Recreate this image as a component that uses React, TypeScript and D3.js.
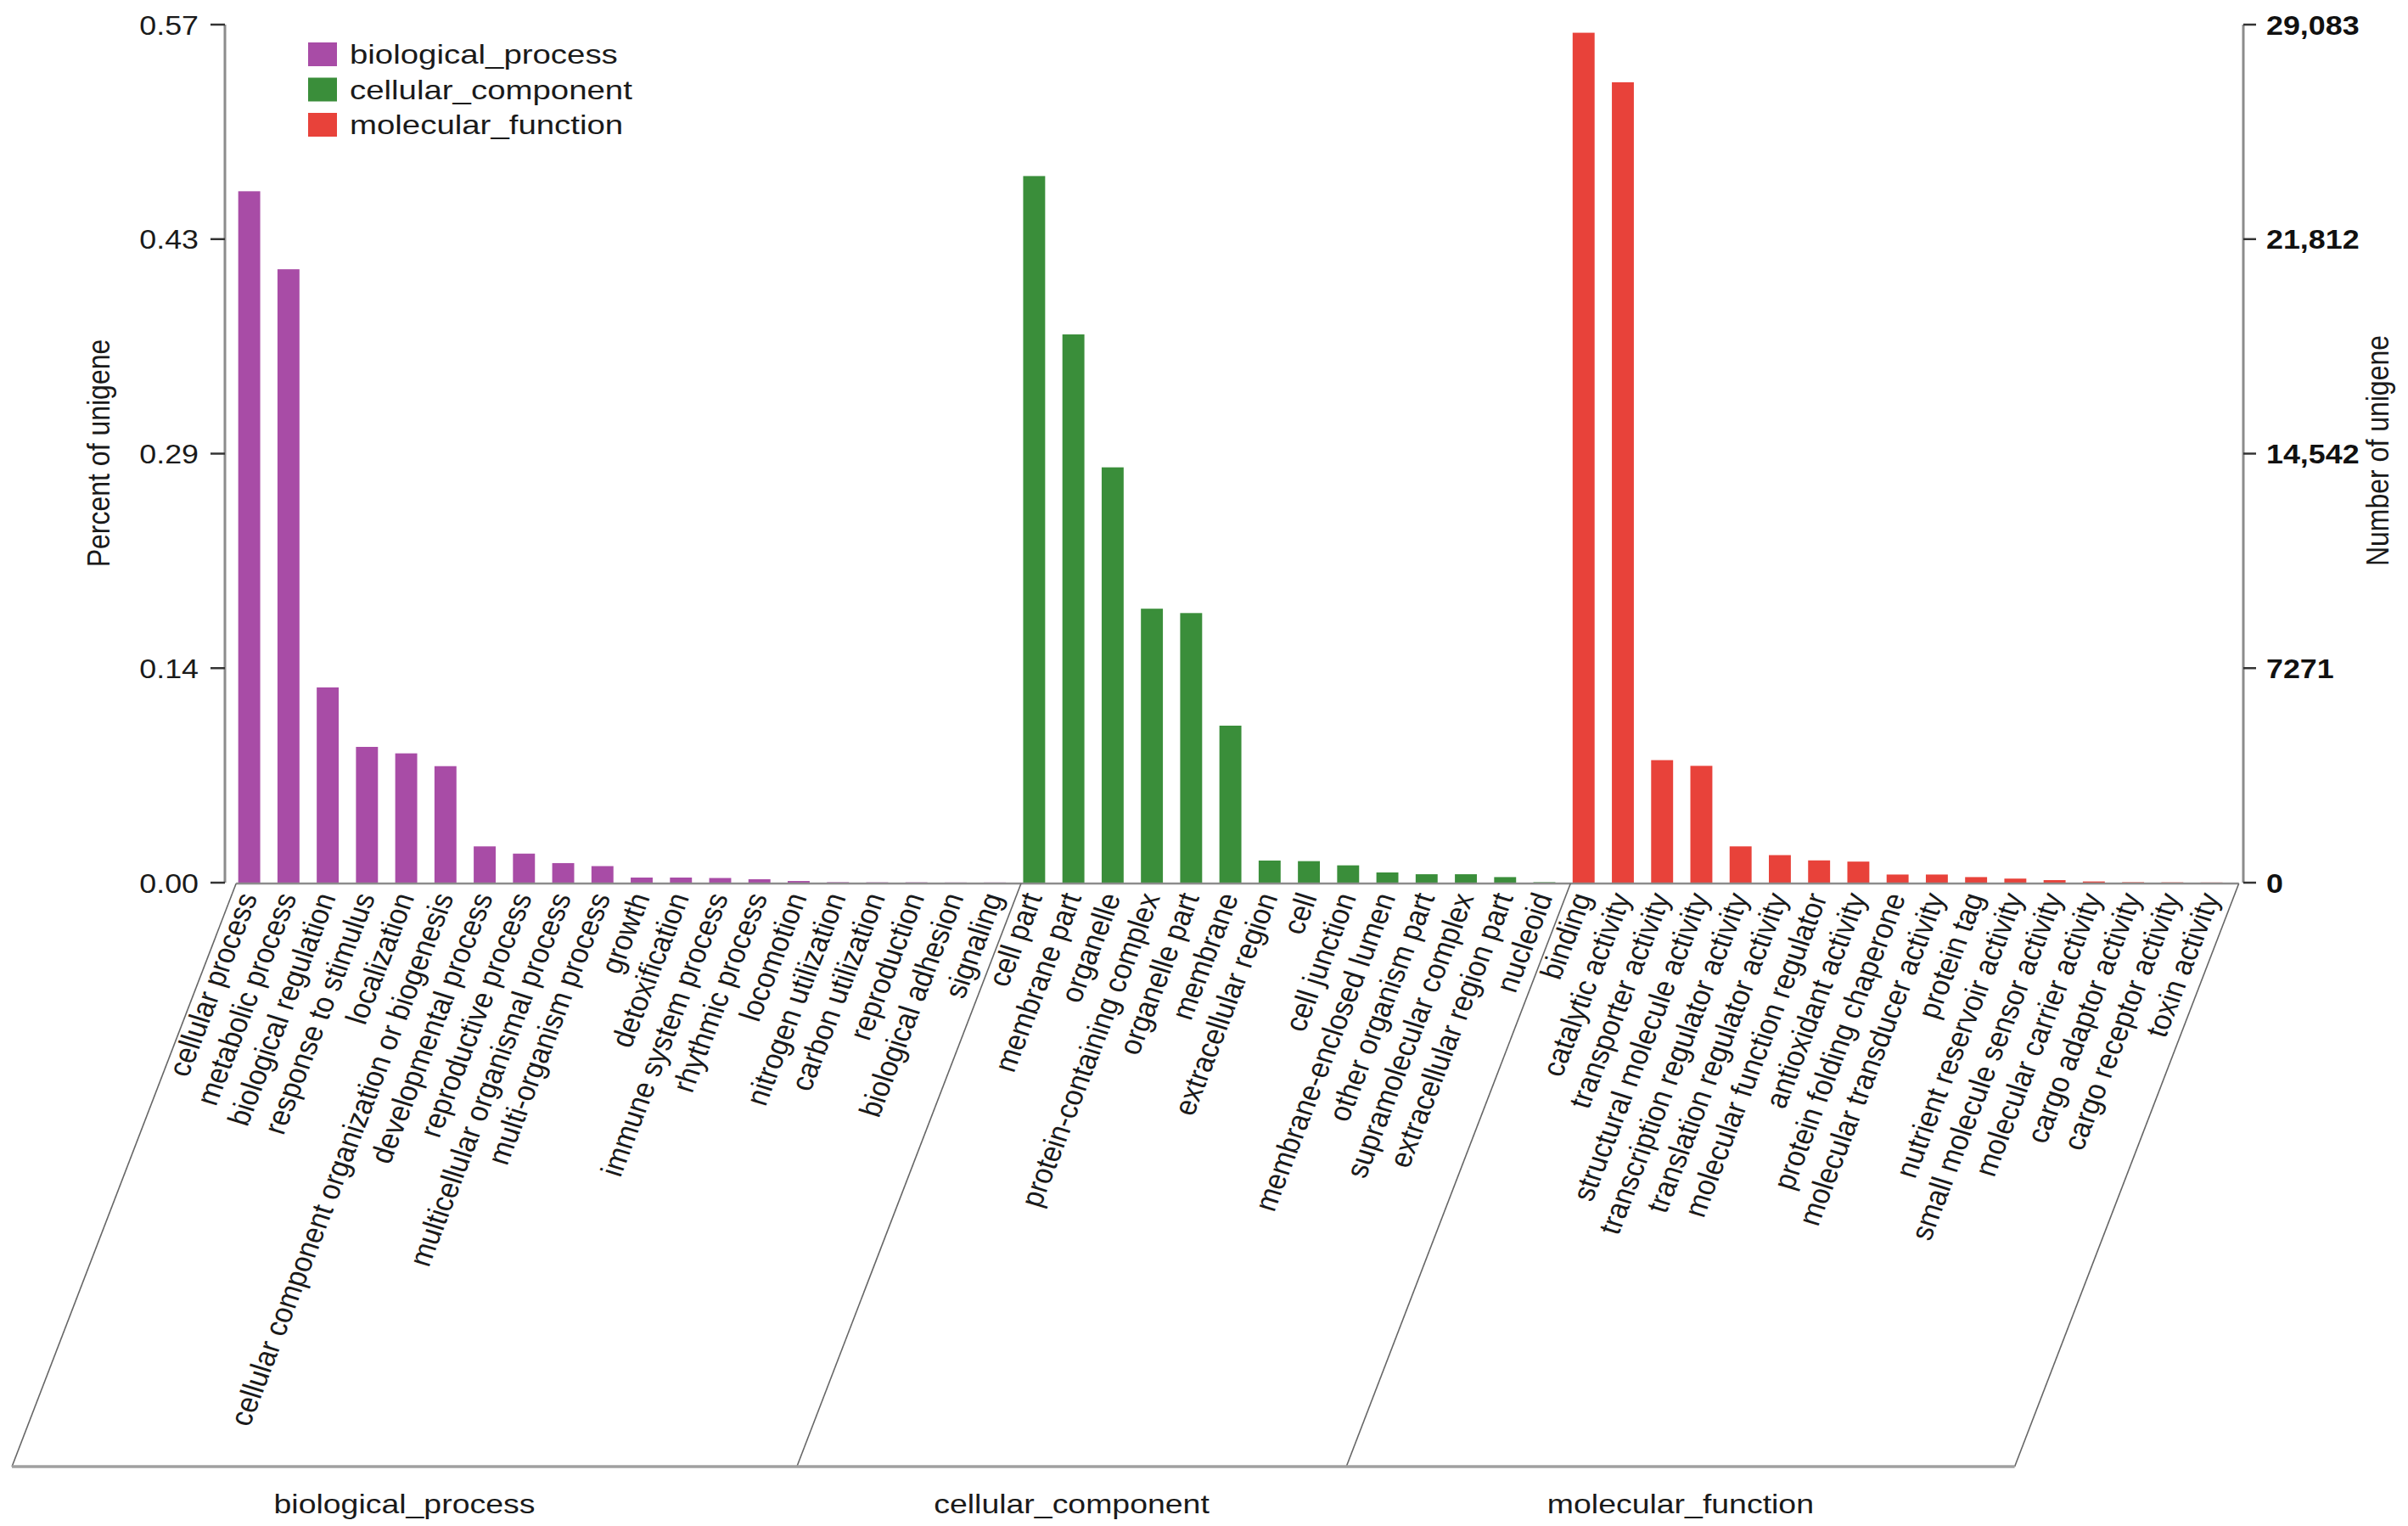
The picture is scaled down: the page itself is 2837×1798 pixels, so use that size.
import React from 'react';
import * as d3 from 'd3';

// --- data ---
const groups = ['biological_process', 'cellular_component', 'molecular_function'];
const groupColors = ['#a84ca6', '#3a8e3a', '#e8423a'];

const bpTerms = [
  'cellular process', 'metabolic process', 'biological regulation', 'response to stimulus',
  'localization', 'cellular component organization or biogenesis', 'developmental process',
  'reproductive process', 'multicellular organismal process', 'multi-organism process',
  'growth', 'detoxification', 'immune system process', 'rhythmic process', 'locomotion',
  'nitrogen utilization', 'carbon utilization', 'reproduction', 'biological adhesion', 'signaling',
];
const bpValues = [
  0.4593, 0.4075, 0.1297, 0.0902, 0.0859, 0.0774, 0.0241, 0.0193, 0.013, 0.011,
  0.0034, 0.0034, 0.0031, 0.0023, 0.0011, 0.0003, 0.0002, 0.0002, 0.0001, 0.0001,
];

const ccTerms = [
  'cell part', 'membrane part', 'organelle', 'protein-containing complex', 'organelle part',
  'membrane', 'extracellular region', 'cell', 'cell junction', 'membrane-enclosed lumen',
  'other organism part', 'supramolecular complex', 'extracellular region part', 'nucleoid',
];
const ccValues = [
  0.4694, 0.3642, 0.2759, 0.182, 0.1791, 0.1043, 0.0147, 0.0143, 0.0115, 0.0068,
  0.0056, 0.0056, 0.0037, 0.0003,
];

const mfTerms = [
  'binding', 'catalytic activity', 'transporter activity', 'structural molecule activity',
  'transcription regulator activity', 'translation regulator activity',
  'molecular function regulator', 'antioxidant activity', 'protein folding chaperone',
  'molecular transducer activity', 'protein tag', 'nutrient reservoir activity',
  'small molecule sensor activity', 'molecular carrier activity', 'cargo adaptor activity',
  'cargo receptor activity', 'toxin activity',
];
const mfValues = [
  0.5646, 0.5317, 0.0814, 0.0776, 0.0241, 0.0183, 0.0148, 0.014, 0.0054, 0.0054,
  0.0037, 0.0027, 0.0017, 0.0008, 0.0003, 0.0002, 0.0001,
];

const leftTickValues = [0, 0.1425, 0.285, 0.4275, 0.57];
const leftTickLabels = ['0.00', '0.14', '0.29', '0.43', '0.57'];
const rightTickValues = [0, 7271, 14542, 21812, 29083];
const rightTickLabels = ['0', '7271', '14,542', '21,812', '29,083'];

const W = 2837;
const H = 1798;
const FONT = "'Liberation Sans', Arial, Helvetica, sans-serif";
const SX = 1.17; // the reference text is a bit wider than plain Arial

const App: React.FC = () => {
  // --- scales ---
  const rows = [
    ...bpTerms.map((t, i) => ({ term: t, value: bpValues[i], g: 0 })),
    ...ccTerms.map((t, i) => ({ term: t, value: ccValues[i], g: 1 })),
    ...mfTerms.map((t, i) => ({ term: t, value: mfValues[i], g: 2 })),
  ];
  const keys = rows.map((_, i) => String(i));

  const baseline = 1040;
  const topY = 29;
  const leftX = 265;
  const rightX = 2643;

  const x = d3.scaleBand().domain(keys).range([270.5, 2628.7]).paddingInner(0.44).paddingOuter(0.22);
  const yLeft = d3.scaleLinear().domain([0, 0.57]).range([baseline, topY]);
  const yRight = d3.scaleLinear().domain([0, 29083]).range([baseline, topY]);

  // --- category boxes (slanted) ---
  const boxBottom = 1728;
  const slant = (boxBottom - baseline) / Math.tan((69 * Math.PI) / 180);
  const groupStarts = [0, bpTerms.length, bpTerms.length + ccTerms.length].map(
    (i) => (x(String(i)) as number) - 2.5
  );
  const boxRight = x.range()[1] + 9;
  const edgesTop = [...groupStarts, boxRight];
  const edgesBottom = edgesTop.map((e) => e - slant);

  return (
    <>
      <style>{'body{margin:0;background:#fff}'}</style>
      <svg width={W} height={H} viewBox={`0 0 ${W} ${H}`} style={{ display: 'block', fontFamily: FONT }}>
        <rect width={W} height={H} fill="#fff" />

        {/* bars */}
        {rows.map((r, i) => (
          <rect
            key={i}
            x={x(String(i))}
            y={yLeft(r.value)}
            width={x.bandwidth()}
            height={baseline - yLeft(r.value)}
            fill={groupColors[r.g]}
          />
        ))}

        {/* baseline */}
        <line x1={edgesTop[0]} x2={boxRight} y1={baseline + 1} y2={baseline + 1} stroke="#8c8c8c" strokeWidth={2.5} />

        {/* slanted group boxes */}
        {edgesTop.map((e, i) => (
          <line key={i} x1={e} y1={baseline + 1} x2={edgesBottom[i]} y2={boxBottom} stroke="#666" strokeWidth={1.6} />
        ))}
        <line x1={edgesBottom[0]} x2={edgesBottom[3]} y1={boxBottom} y2={boxBottom} stroke="#a0a0a0" strokeWidth={3.5} />

        {/* group names */}
        {groups.map((g, i) => (
          <text
            key={g}
            transform={`translate(${(edgesBottom[i] + edgesBottom[i + 1]) / 2},${1783}) scale(${SX},1)`}
            textAnchor="middle"
            fontSize={32}
            fill="#1a1a1a"
          >
            {g}
          </text>
        ))}

        {/* term labels */}
        {rows.map((r, i) => (
          <text
            key={`l${i}`}
            transform={`translate(${(x(String(i)) as number) + x.bandwidth() / 2 + 10},${1057}) scale(1.12,1) rotate(-71)`}
            textAnchor="end"
            fontSize={32.5}
            fill="#1a1a1a"
          >
            {r.term}
          </text>
        ))}

        {/* left axis */}
        <line x1={leftX} x2={leftX} y1={yLeft(0.57)} y2={yLeft(0)} stroke="#8c8c8c" strokeWidth={3} />
        {leftTickValues.map((v, i) => (
          <g key={`lt${i}`}>
            <line x1={leftX - 17} x2={leftX} y1={yLeft(v)} y2={yLeft(v)} stroke="#333" strokeWidth={2.5} />
            <text
              transform={`translate(${234},${yLeft(v)}) scale(1.12,1)`}
              textAnchor="end"
              dy="0.36em"
              fontSize={32}
              fill="#1a1a1a"
            >
              {leftTickLabels[i]}
            </text>
          </g>
        ))}
        <text
          transform={`translate(${129},${534}) scale(${SX},1) rotate(-90)`}
          textAnchor="middle"
          fontSize={32}
          fill="#1a1a1a"
        >
          Percent of unigene
        </text>

        {/* right axis */}
        <line x1={rightX} x2={rightX} y1={yRight(29083)} y2={yRight(0)} stroke="#8c8c8c" strokeWidth={3} />
        {rightTickValues.map((v, i) => (
          <g key={`rt${i}`}>
            <line x1={rightX} x2={rightX + 15} y1={yRight(v)} y2={yRight(v)} stroke="#333" strokeWidth={2.5} />
            <text
              transform={`translate(${2670},${yRight(v)}) scale(1.12,1)`}
              textAnchor="start"
              dy="0.36em"
              fontSize={32}
              fontWeight="bold"
              fill="#111"
            >
              {rightTickLabels[i]}
            </text>
          </g>
        ))}
        <text
          transform={`translate(${2814},${531}) scale(${SX},1) rotate(-90)`}
          textAnchor="middle"
          fontSize={32}
          fill="#1a1a1a"
        >
          Number of unigene
        </text>

        {/* legend */}
        {groups.map((g, i) => (
          <g key={`lg${i}`} transform={`translate(363,${50 + i * 41.5})`}>
            <rect width={34} height={28} fill={groupColors[i]} />
            <text transform={`translate(49,25) scale(${1.2},1)`} fontSize={32} fill="#1a1a1a">
              {g}
            </text>
          </g>
        ))}
      </svg>
    </>
  );
};

export default App;
